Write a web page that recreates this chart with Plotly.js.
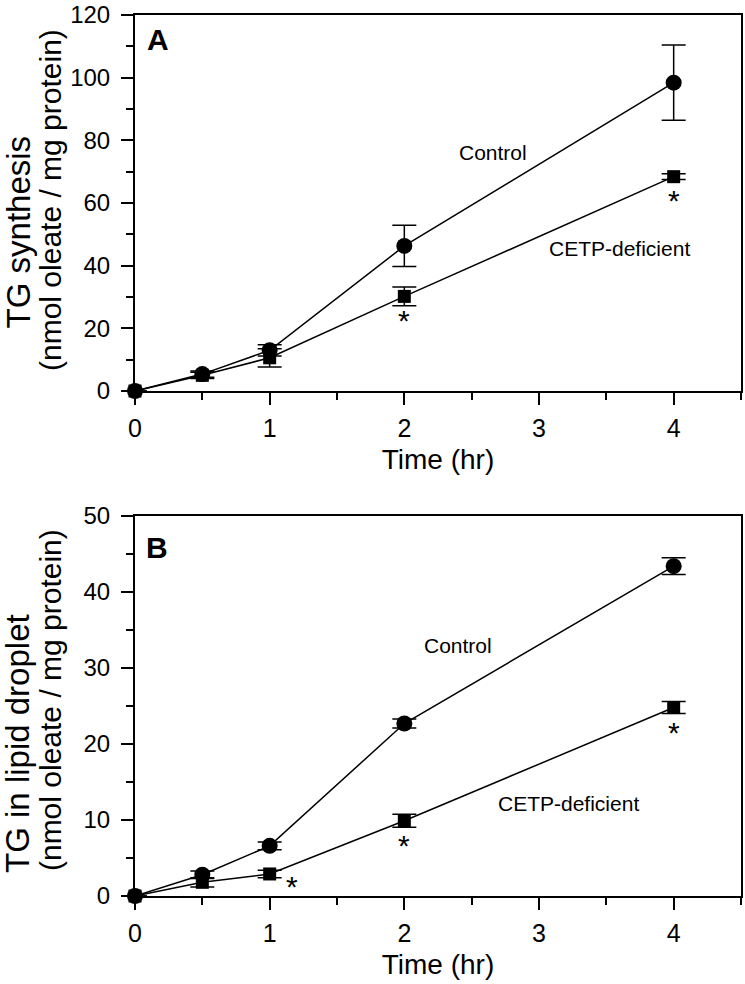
<!DOCTYPE html>
<html>
<head>
<meta charset="utf-8">
<script src="https://cdn.plot.ly/plotly-3.0.1.min.js"></script>
<style>
html,body{margin:0;padding:0;background:#fff;}
#chart{width:745px;height:984px;}
</style>
</head>
<body>
<div id="chart"></div>
<script>
// ---- data ----
const timeHr = [0, 0.5, 1, 2, 4];

// Panel A: TG synthesis (nmol oleate / mg protein)
const synthControl = [0, 5.4, 13.0, 46.3, 98.4];
const synthControlErr = [0, 1.0, 1.8, 6.6, 12.0];
const synthCetp = [0, 5.0, 10.6, 30.2, 68.4];
const synthCetpErr = [0, 1.0, 2.9, 3.0, 0.9];

// Panel B: TG in lipid droplet (nmol oleate / mg protein)
const dropControl = [0, 2.8, 6.6, 22.7, 43.4];
const dropControlErr = [0, 0.5, 0.5, 0.6, 1.1];
const dropCetp = [0, 1.8, 2.9, 9.9, 24.8];
const dropCetpErr = [0, 0.6, 0.5, 0.85, 0.8];

// significance markers (time indices)
const starsA = [3, 4];
const starsB = [2, 3, 4];

const xTickVals = [0, 1, 2, 3, 4];
const xTickText = ['0', '1', '2', '3', '4'];
const yTickValsA = [0, 20, 40, 60, 80, 100, 120];
const yTickValsB = [0, 10, 20, 30, 40, 50];

const seriesNames = ['Control', 'CETP-deficient'];
const panelLabels = ['A', 'B'];
const xTitle = 'Time (hr)';
const yTitlesA = ['TG synthesis', '(nmol oleate / mg protein)'];
const yTitlesB = ['TG in lipid droplet', '(nmol oleate / mg protein)'];

// ---- styles ----
const FONT = 'Liberation Sans, Arial, Helvetica, sans-serif';
const BLACK = '#000';

function trace(x, y, err, symbol, size, xa, ya, name) {
  return {
    type: 'scatter', mode: 'lines+markers', x: x, y: y, name: name,
    xaxis: xa, yaxis: ya, cliponaxis: false,
    line: {color: BLACK, width: 1.5},
    marker: {symbol: symbol, size: size, color: BLACK},
    error_y: {type: 'data', array: err, visible: true, color: BLACK, thickness: 1.5, width: 12}
  };
}

const data = [
  trace(timeHr, synthControl, synthControlErr, 'circle', 16, 'x', 'y', seriesNames[0]),
  trace(timeHr, synthCetp, synthCetpErr, 'square', 13, 'x', 'y', seriesNames[1]),
  trace(timeHr, dropControl, dropControlErr, 'circle', 16, 'x2', 'y2', seriesNames[0]),
  trace(timeHr, dropCetp, dropCetpErr, 'square', 13, 'x2', 'y2', seriesNames[1])
];

function xaxis(anchor) {
  return {
    anchor: anchor, domain: [0, 1], range: [0, 4.5],
    tickmode: 'array', tickvals: xTickVals, ticktext: xTickText,
    ticks: 'outside', ticklen: 12, tickwidth: 2, tickcolor: BLACK,
    ticklabelstandoff: 2, ticklabeloverflow: 'allow',
    minor: {tickmode: 'linear', tick0: 0, dtick: 0.5, ticks: 'outside', ticklen: 7, tickwidth: 2, tickcolor: BLACK, showgrid: false},
    showline: true, linecolor: BLACK, linewidth: 2, mirror: true,
    showgrid: false, zeroline: false,
    tickfont: {family: FONT, size: 25, color: BLACK},
    title: {text: xTitle, font: {family: FONT, size: 28, color: BLACK}, standoff: 8}
  };
}
function yaxis(anchor, domain, range, tickvals, minor) {
  return {
    anchor: anchor, domain: domain, range: range,
    tickmode: 'array', tickvals: tickvals,
    ticks: 'outside', ticklen: 12, tickwidth: 2, tickcolor: BLACK,
    ticklabelstandoff: 6, ticklabeloverflow: 'allow',
    minor: {tickmode: 'linear', tick0: 0, dtick: minor, ticks: 'outside', ticklen: 7, tickwidth: 2, tickcolor: BLACK, showgrid: false},
    showline: true, linecolor: BLACK, linewidth: 2, mirror: true,
    showgrid: false, zeroline: false,
    tickfont: {family: FONT, size: 24, color: BLACK}
  };
}

const annotations = [];
function ann(o) {
  annotations.push(Object.assign({showarrow: false, font: {family: FONT, size: 21, color: BLACK}}, o));
}
// y titles (two lines, different sizes)
ann({xref: 'paper', yref: 'paper', x: -0.1931, y: 0.7543, text: yTitlesA[0], textangle: -90, xanchor: 'center', yanchor: 'middle', font: {family: FONT, size: 33, color: BLACK}});
ann({xref: 'paper', yref: 'paper', x: -0.1403, y: 0.790, text: yTitlesA[1], textangle: -90, xanchor: 'center', yanchor: 'middle', font: {family: FONT, size: 30, color: BLACK}});
ann({xref: 'paper', yref: 'paper', x: -0.1931, y: 0.1737, text: yTitlesB[0], textangle: -90, xanchor: 'center', yanchor: 'middle', font: {family: FONT, size: 33, color: BLACK}});
ann({xref: 'paper', yref: 'paper', x: -0.1403, y: 0.2224, text: yTitlesB[1], textangle: -90, xanchor: 'center', yanchor: 'middle', font: {family: FONT, size: 30, color: BLACK}});
// panel labels
ann({xref: 'x', yref: 'y', x: 0.168, y: 112.1, text: '<b>' + panelLabels[0] + '</b>', font: {family: FONT, size: 30, color: BLACK}});
ann({xref: 'x2', yref: 'y2', x: 0.16, y: 45.9, text: '<b>' + panelLabels[1] + '</b>', font: {family: FONT, size: 30, color: BLACK}});
// series labels
ann({xref: 'x', yref: 'y', x: 2.658, y: 76.0, text: seriesNames[0]});
ann({xref: 'x', yref: 'y', x: 3.60, y: 45.6, text: seriesNames[1]});
ann({xref: 'x2', yref: 'y2', x: 2.40, y: 33.0, text: seriesNames[0]});
ann({xref: 'x2', yref: 'y2', x: 3.22, y: 12.2, text: seriesNames[1]});
// significance stars
const starFont = {family: FONT, size: 30, color: BLACK};
starsA.forEach(function (i) {
  ann({xref: 'x', yref: 'y', x: timeHr[i], y: synthCetp[i], text: '*', yshift: -24, font: starFont});
});
starsB.forEach(function (i) {
  const side = (i === 2);
  ann({xref: 'x2', yref: 'y2', x: timeHr[i], y: dropCetp[i], text: '*',
       xshift: side ? 22 : 0, yshift: side ? -13 : -25, font: starFont});
});

const layout = {
  width: 745, height: 984,
  margin: {l: 135, r: 4, t: 15, b: 88},
  paper_bgcolor: '#fff', plot_bgcolor: '#fff',
  showlegend: false,
  font: {family: FONT, color: BLACK},
  xaxis: xaxis('y'),
  yaxis: yaxis('x', [0.5732, 1], [0, 120], yTickValsA, 10),
  xaxis2: xaxis('y2'),
  yaxis2: yaxis('x2', [0, 0.4313], [0, 50], yTickValsB, 5),
  annotations: annotations
};

Plotly.newPlot('chart', data, layout, {displayModeBar: false, staticPlot: true});
</script>
</body>
</html>
